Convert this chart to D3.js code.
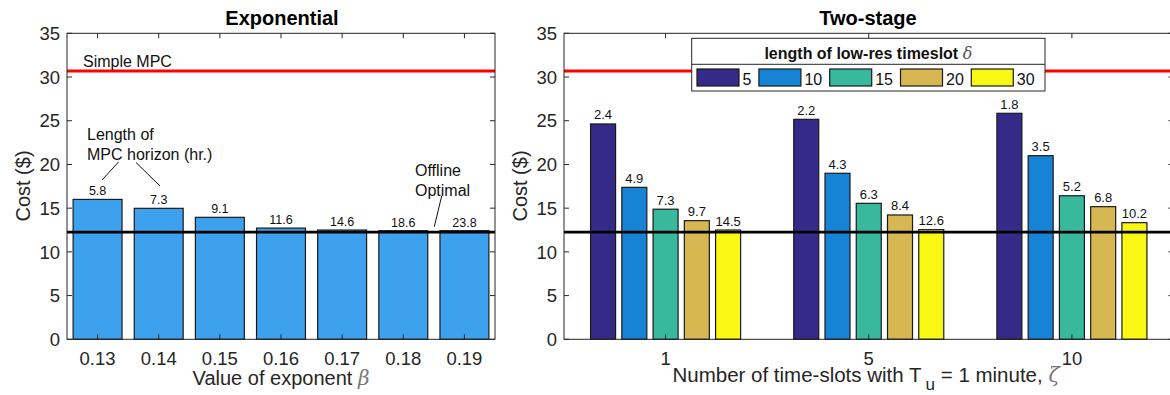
<!DOCTYPE html>
<html>
<head>
<meta charset="utf-8">
<script src="https://cdn.jsdelivr.net/npm/d3@7"></script>
<style>
  html, body { margin: 0; padding: 0; background: #fff; }
  svg { display: block; font-family: "Liberation Sans", Arial, Helvetica, sans-serif; }
</style>
</head>
<body>
<svg id="chart" width="1170" height="395"></svg>
<script>
// ---- data ----
const betaLabels = ["0.13", "0.14", "0.15", "0.16", "0.17", "0.18", "0.19"];
const expCost = [16.0, 14.98, 13.95, 12.72, 12.5, 12.42, 12.42];
const expHorizon = ["5.8", "7.3", "9.1", "11.6", "14.6", "18.6", "23.8"];

const zetaLabels = ["1", "5", "10"];
const deltaLabels = ["5", "10", "15", "20", "30"];
const twoStageCost = [
  [24.63, 17.38, 14.88, 13.57, 12.5],
  [25.16, 18.99, 15.55, 14.22, 12.54],
  [25.85, 21.0, 16.42, 15.17, 13.34]
];
const twoStageHorizon = [
  ["2.4", "4.9", "7.3", "9.7", "14.5"],
  ["2.2", "4.3", "6.3", "8.4", "12.6"],
  ["1.8", "3.5", "5.2", "6.8", "10.2"]
];
const deltaColors = ["#352a87", "#1783d5", "#38b89d", "#d6b752", "#f8f814"];

const simpleMpcCost = 30.7;
const offlineCost = 12.27;
const yTicks = [0, 5, 10, 15, 20, 25, 30, 35];

// ---- layout ----
const svg = d3.select("#chart");
const axisColor = "#262626";
const plotTop = 33.3, plotBottom = 339.3;
const y = d3.scaleLinear().domain([0, 35]).range([plotBottom, plotTop]);

function frame(g, x0, x1, xTickPos) {
  // inward ticks on all four sides, MATLAB box style
  const tl = 5;
  yTicks.forEach(t => {
    g.append("line").attr("x1", x0).attr("x2", x0 + tl).attr("y1", y(t)).attr("y2", y(t))
      .attr("stroke", axisColor).attr("stroke-width", 1);
    g.append("line").attr("x1", x1).attr("x2", x1 - tl).attr("y1", y(t)).attr("y2", y(t))
      .attr("stroke", axisColor).attr("stroke-width", 1);
    g.append("text").attr("x", x0 - 7).attr("y", y(t)).attr("dy", "0.36em")
      .attr("text-anchor", "end").attr("font-size", 18.5).attr("fill", axisColor).text(t);
  });
  xTickPos.forEach(p => {
    g.append("line").attr("x1", p.x).attr("x2", p.x).attr("y1", plotTop).attr("y2", plotTop + tl)
      .attr("stroke", axisColor).attr("stroke-width", 1);
    g.append("line").attr("x1", p.x).attr("x2", p.x).attr("y1", plotBottom).attr("y2", plotBottom - tl)
      .attr("stroke", axisColor).attr("stroke-width", 1);
    g.append("text").attr("x", p.x).attr("y", 364.5).attr("text-anchor", "middle")
      .attr("font-size", 18.5).attr("fill", axisColor).text(p.label);
  });
  g.append("rect").attr("x", x0).attr("y", plotTop).attr("width", x1 - x0).attr("height", plotBottom - plotTop)
    .attr("fill", "none").attr("stroke", axisColor).attr("stroke-width", 1);
}

function refLines(g, x0, x1) {
  g.append("line").attr("x1", x0).attr("x2", x1).attr("y1", y(simpleMpcCost)).attr("y2", y(simpleMpcCost))
    .attr("stroke", "#ff0000").attr("stroke-width", 3);
  g.append("line").attr("x1", x0).attr("x2", x1).attr("y1", y(offlineCost)).attr("y2", y(offlineCost))
    .attr("stroke", "#000").attr("stroke-width", 2.8);
}

function yLabel(g, cx) {
  g.append("text").attr("transform", `translate(${cx},186) rotate(-90)`)
    .attr("text-anchor", "middle").attr("dy", "0.35em").attr("font-size", 20)
    .attr("fill", axisColor).text("Cost ($)");
}

// ---- left panel: Exponential ----
{
  const x0 = 67, x1 = 495;
  const g = svg.append("g");
  const x = d3.scaleBand().domain(betaLabels).range([x0, x1]).paddingInner(0.2).paddingOuter(0.1);

  g.selectAll("rect.bar").data(expCost).join("rect").attr("class", "bar")
    .attr("x", (d, i) => x(betaLabels[i])).attr("width", x.bandwidth())
    .attr("y", d => y(d)).attr("height", d => y(0) - y(d))
    .attr("fill", "#3da1ee").attr("stroke", "#1a1a1a").attr("stroke-width", 1.2);

  g.selectAll("text.val").data(expCost).join("text").attr("class", "val")
    .attr("x", (d, i) => x(betaLabels[i]) + x.bandwidth() / 2).attr("y", d => y(d) - 4)
    .attr("text-anchor", "middle").attr("font-size", 12.5).attr("fill", "#111")
    .text((d, i) => expHorizon[i]);

  refLines(g, x0, x1);
  frame(g, x0, x1, betaLabels.map(b => ({ x: x(b) + x.bandwidth() / 2, label: b })));

  g.append("text").attr("x", 282).attr("y", 25).attr("text-anchor", "middle")
    .attr("font-size", 20).attr("font-weight", "bold").text("Exponential");
  yLabel(g, 23);
  const xl = g.append("text").attr("x", 281).attr("y", 384.5).attr("text-anchor", "middle")
    .attr("font-size", 20).attr("fill", axisColor);
  xl.append("tspan").text("Value of exponent ");
  xl.append("tspan").attr("font-family", "'DejaVu Serif', serif").attr("font-style", "italic")
    .attr("fill", "#777").text("β");

  // annotations
  const ann = (tx, ty, s) => g.append("text").attr("x", tx).attr("y", ty).attr("font-size", 16)
    .attr("fill", "#111").text(s);
  ann(83, 67, "Simple MPC");
  ann(87, 140, "Length of");
  ann(87, 160, "MPC horizon (hr.)");
  ann(415, 176, "Offline");
  ann(415, 196, "Optimal");
  const seg = (a, b, c, d) => g.append("line").attr("x1", a).attr("y1", b).attr("x2", c).attr("y2", d)
    .attr("stroke", "#111").attr("stroke-width", 1);
  seg(118.5, 162, 102, 180);
  seg(136, 162.5, 160, 186);
  seg(441.7, 196, 434.3, 226.7);
}

// ---- right panel: Two-stage ----
{
  const x0 = 564, x1 = 1173.5;
  const g = svg.append("g");
  const xg = d3.scaleBand().domain(zetaLabels).range([x0, x1]).padding(0);
  const xi = d3.scaleBand().domain(deltaLabels).range([0, xg.bandwidth()])
    .paddingInner(0.2).paddingOuter(0.85);

  const groups = g.selectAll("g.grp").data(twoStageCost).join("g").attr("class", "grp")
    .attr("transform", (d, i) => `translate(${xg(zetaLabels[i])},0)`);

  groups.each(function (vals, gi) {
    const gg = d3.select(this);
    gg.selectAll("rect").data(vals).join("rect")
      .attr("x", (d, j) => xi(deltaLabels[j])).attr("width", xi.bandwidth())
      .attr("y", d => y(d)).attr("height", d => y(0) - y(d))
      .attr("fill", (d, j) => deltaColors[j]).attr("stroke", "#1a1a1a").attr("stroke-width", 1.2);
    gg.selectAll("text").data(vals).join("text")
      .attr("x", (d, j) => xi(deltaLabels[j]) + xi.bandwidth() / 2).attr("y", d => y(d) - 4.5)
      .attr("text-anchor", "middle").attr("font-size", 13).attr("fill", "#111")
      .text((d, j) => twoStageHorizon[gi][j]);
  });

  refLines(g, x0, x1);
  frame(g, x0, x1, zetaLabels.map(z => ({ x: xg(z) + xg.bandwidth() / 2, label: z })));

  g.append("text").attr("x", 868).attr("y", 25).attr("text-anchor", "middle")
    .attr("font-size", 20).attr("font-weight", "bold").text("Two-stage");
  yLabel(g, 520);

  const xl = g.append("text").attr("x", 866).attr("y", 381.7).attr("text-anchor", "middle")
    .attr("font-size", 20.5).attr("fill", axisColor);
  xl.append("tspan").text("Number of time-slots with T");
  xl.append("tspan").attr("dx", 4).attr("dy", 8.5).attr("font-size", 17).text("u");
  xl.append("tspan").attr("dy", -8.5).text(" = 1 minute, ");
  xl.append("tspan").attr("font-family", "'DejaVu Serif', serif").attr("font-style", "italic")
    .attr("fill", "#777").text("ζ");

  // legend
  const lg = g.append("g");
  const bx0 = 691.7, bx1 = 1045, by0 = 38.3, by1 = 91, sep = 64.3;
  lg.append("rect").attr("x", bx0).attr("y", by0).attr("width", bx1 - bx0).attr("height", by1 - by0)
    .attr("fill", "#fff").attr("stroke", axisColor).attr("stroke-width", 1);
  lg.append("line").attr("x1", bx0).attr("x2", bx1).attr("y1", sep).attr("y2", sep)
    .attr("stroke", axisColor).attr("stroke-width", 1);
  const lt = lg.append("text").attr("x", (bx0 + bx1) / 2).attr("y", 59.3).attr("text-anchor", "middle")
    .attr("font-size", 16).attr("font-weight", "bold").attr("fill", "#111");
  lt.append("tspan").text("length of low-res timeslot ");
  lt.append("tspan").attr("font-family", "'DejaVu Serif', serif").attr("font-style", "italic")
    .attr("font-weight", "normal").attr("fill", "#555").text("δ");

  let cx = 697;
  deltaLabels.forEach((lab, j) => {
    lg.append("rect").attr("x", cx).attr("y", 69).attr("width", 42).attr("height", 17)
      .attr("fill", deltaColors[j]).attr("stroke", "#1a1a1a").attr("stroke-width", 1.2);
    const t = lg.append("text").attr("x", cx + 45.5).attr("y", 85).attr("font-size", 16)
      .attr("fill", "#111").text(lab);
    cx += 45.5 + t.node().getComputedTextLength() + 7.5;
  });
}
</script>
</body>
</html>
